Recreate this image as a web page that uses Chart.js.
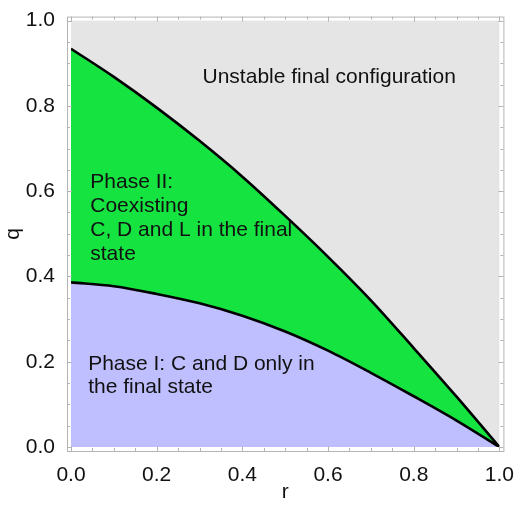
<!DOCTYPE html>
<html>
<head>
<meta charset="utf-8">
<script src="https://cdn.jsdelivr.net/npm/chart.js@4/dist/chart.umd.min.js"></script>
<style>
  html, body { margin: 0; padding: 0; background: #ffffff; }
  canvas { display: block; }
</style>
</head>
<body>
<canvas id="phaseChart" width="522" height="510"></canvas>
<script>
// values
const rValues = [0, 0.1, 0.2, 0.3, 0.4, 0.5, 0.6, 0.7, 0.8, 0.9, 1.0];
const upperQ = [0.934, 0.868, 0.796, 0.718, 0.634, 0.542, 0.446, 0.344, 0.232, 0.118, 0];
const lowerQ = [0.386, 0.377, 0.359, 0.337, 0.308, 0.271, 0.226, 0.174, 0.119, 0.062, 0];
const tickValues = [0, 0.2, 0.4, 0.6, 0.8, 1.0];

const unstableText = ["Unstable final configuration"];
const phase2Text = ["Phase II:", "Coexisting", "C, D and L in the final", "state"];
const phase1Text = ["Phase I: C and D only in", "the final state"];

const FONT = "'Liberation Sans', Arial, Helvetica, sans-serif";
const FRAME_GAP = 4;

const toPoints = (ys) => rValues.map((r, i) => ({ x: r, y: ys[i] }));

// gray background for the unstable region
const backgroundPlugin = {
  id: "regionBackground",
  beforeDatasetsDraw: (chart) => {
    const { ctx, chartArea } = chart;
    ctx.save();
    ctx.fillStyle = "#e5e5e5";
    ctx.fillRect(chartArea.left, chartArea.top,
      chartArea.right - chartArea.left, chartArea.bottom - chartArea.top);
    ctx.restore();
  },
};

// Mathematica-like frame with inward ticks
const framePlugin = {
  id: "frame",
  afterDraw: (chart) => {
    const { ctx, chartArea, scales: { x, y } } = chart;
    const L = chartArea.left - FRAME_GAP, R = chartArea.right + FRAME_GAP;
    const T = chartArea.top - FRAME_GAP, B = chartArea.bottom + FRAME_GAP;
    ctx.save();
    ctx.strokeStyle = "#b4b4b4";
    ctx.lineWidth = 1;
    ctx.strokeRect(L + 0.5, T + 0.5, R - L, B - T);
    ctx.beginPath();
    for (let i = 0; i <= 20; i++) {
      const v = i * 0.05;
      const len = i % 4 === 0 ? 5 : 3;
      const px = Math.round(x.getPixelForValue(v)) + 0.5;
      const py = Math.round(y.getPixelForValue(v)) + 0.5;
      ctx.moveTo(px, B); ctx.lineTo(px, B - len);
      ctx.moveTo(px, T); ctx.lineTo(px, T + len);
      ctx.moveTo(L, py); ctx.lineTo(L + len, py);
      ctx.moveTo(R, py); ctx.lineTo(R - len, py);
    }
    ctx.stroke();
    ctx.restore();
  },
};

// region annotations
const labelPlugin = {
  id: "regionLabels",
  afterDatasetsDraw: (chart) => {
    const { ctx, scales: { x, y } } = chart;
    const drawLines = (lines, r0, q0, step) => {
      lines.forEach((line, i) => {
        ctx.fillText(line, x.getPixelForValue(r0), y.getPixelForValue(q0) + i * step);
      });
    };
    ctx.save();
    ctx.font = "21px " + FONT;
    ctx.fillStyle = "#111111";
    ctx.textAlign = "left";
    ctx.textBaseline = "middle";
    drawLines(unstableText, 0.307, 0.867, 24);
    drawLines(phase2Text, 0.045, 0.622, 24.2);
    drawLines(phase1Text, 0.04, 0.195, 23.4);
    ctx.restore();
  },
};

const config = {
  type: "line",
  data: {
    datasets: [
      {
        label: "lower boundary",
        data: toPoints(lowerQ),
        borderColor: "#000000",
        borderWidth: 2.6,
        backgroundColor: "#bfbfff",
        fill: "origin",
        pointRadius: 0,
        cubicInterpolationMode: "monotone",
      },
      {
        label: "upper boundary",
        data: toPoints(upperQ),
        borderColor: "#000000",
        borderWidth: 2.6,
        backgroundColor: "#15e340",
        fill: "-1",
        pointRadius: 0,
        cubicInterpolationMode: "monotone",
      },
    ],
  },
  plugins: [backgroundPlugin, labelPlugin, framePlugin],
  options: {
    responsive: false,
    animation: false,
    devicePixelRatio: 1,
    layout: { padding: { top: 10, right: 15, left: 0, bottom: 0 } },
    plugins: { legend: { display: false }, tooltip: { enabled: false } },
    scales: {
      x: {
        type: "linear",
        min: 0,
        max: 1,
        afterFit: (scale) => { scale.height = 63; },
        afterBuildTicks: (scale) => { scale.ticks = tickValues.map((v) => ({ value: v })); },
        grid: { display: false },
        border: { display: false },
        ticks: {
          padding: 8,
          color: "#111111",
          maxRotation: 0,
          autoSkip: false,
          font: { family: FONT, size: 21 },
          callback: (v) => Number(v).toFixed(1),
        },
        title: {
          display: true,
          text: "r",
          color: "#111111",
          font: { family: FONT, size: 21 },
          padding: { top: 0, bottom: 5 },
        },
      },
      y: {
        type: "linear",
        min: 0,
        max: 1,
        afterFit: (scale) => { scale.width = 71; },
        afterBuildTicks: (scale) => { scale.ticks = tickValues.map((v) => ({ value: v })); },
        grid: { display: false },
        border: { display: false },
        ticks: {
          padding: 8,
          color: "#111111",
          autoSkip: false,
          font: { family: FONT, size: 21 },
          callback: (v) => Number(v).toFixed(1),
        },
        title: {
          display: true,
          text: "q",
          color: "#111111",
          font: { family: FONT, size: 21 },
          padding: { top: 1, bottom: 0 },
        },
      },
    },
  },
};

new Chart(document.getElementById("phaseChart"), config);
</script>
</body>
</html>
